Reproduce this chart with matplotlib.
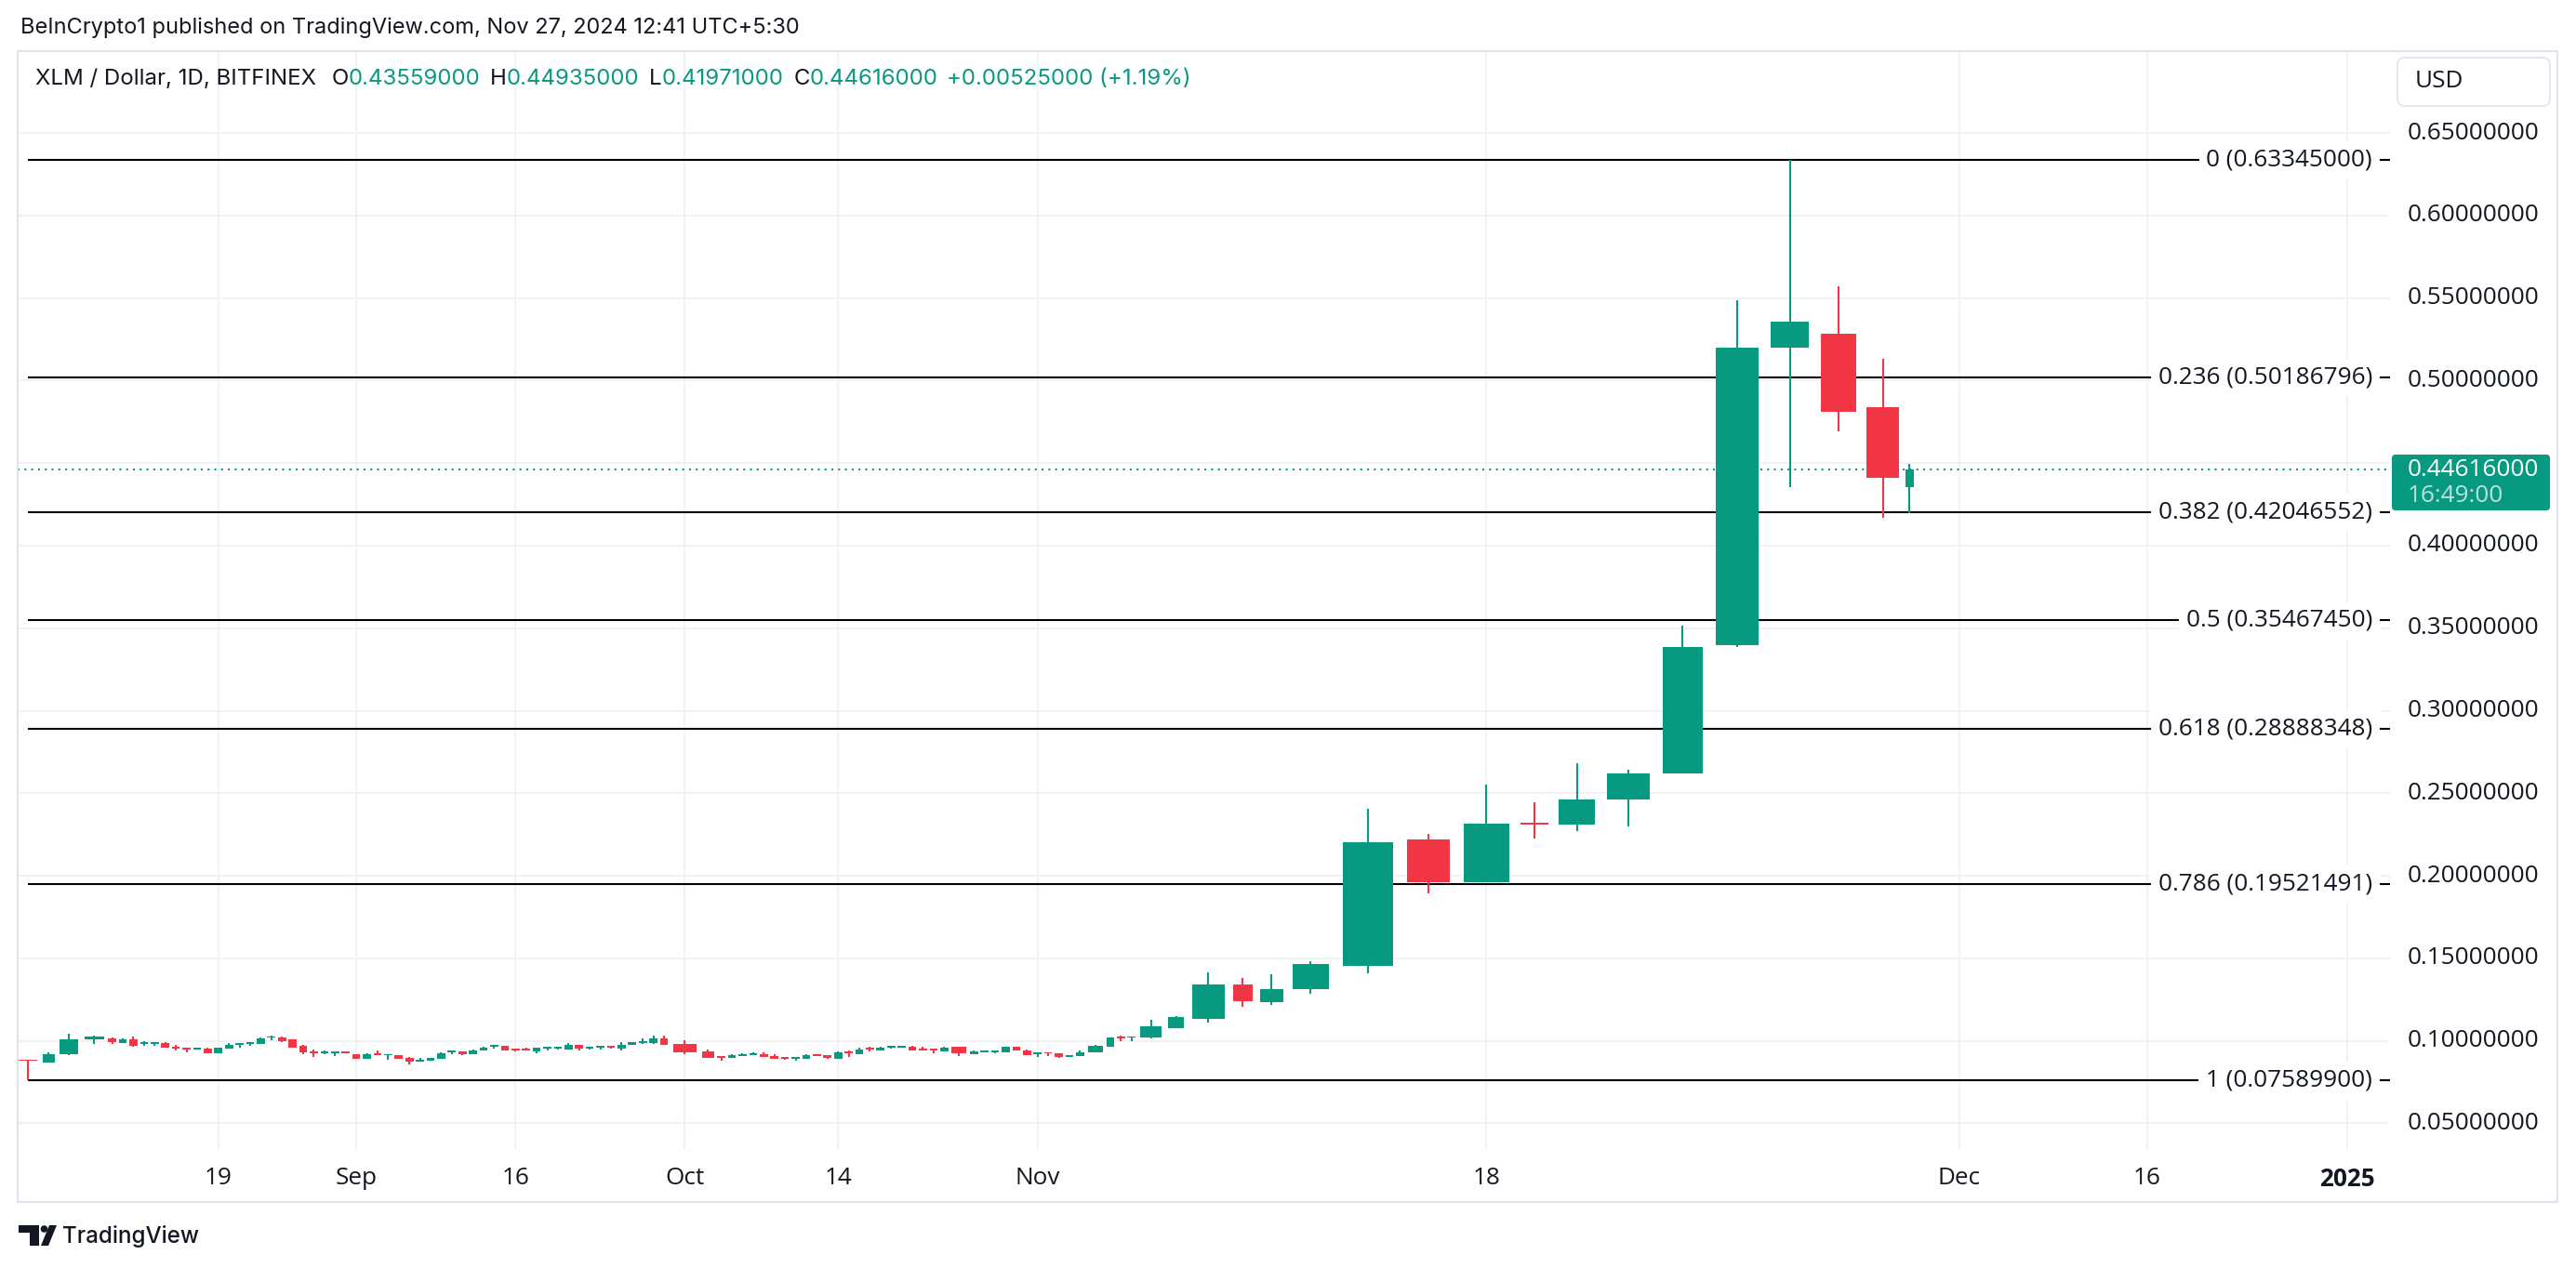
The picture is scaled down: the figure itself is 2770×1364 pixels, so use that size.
import numpy as np
import pandas as pd
import matplotlib
matplotlib.use("Agg")
import matplotlib.pyplot as plt
from matplotlib import transforms
from matplotlib.patches import FancyBboxPatch, Rectangle, Polygon, Circle

# ---------------------------------------------------------------- data
start_date = "2024-08-05"
end_date = "2024-11-27"

open_ = [
    0.0885, 0.0870, 0.0921, 0.1011, 0.1015, 0.0989, 0.1009, 0.0979, 0.0983, 0.0987,
    0.0964, 0.0957, 0.0949, 0.0951, 0.0927, 0.0955, 0.0975, 0.0981, 0.0983, 0.1019,
    0.1020, 0.1009, 0.0970, 0.0938, 0.0927, 0.0927, 0.0936,
    0.0919, 0.0893, 0.0927, 0.0911, 0.0913, 0.0897, 0.0874, 0.0881, 0.0893, 0.0930,
    0.0936, 0.0921, 0.0944, 0.0966, 0.0970, 0.0953, 0.0953, 0.0936, 0.0953, 0.0955,
    0.0949, 0.0975, 0.0955, 0.0958, 0.0970, 0.0955, 0.0973, 0.0989, 0.0987, 0.1015,
    0.0981, 0.0936, 0.0908, 0.0897, 0.0910, 0.0915, 0.0919, 0.0910, 0.0902, 0.0891,
    0.0891, 0.0919, 0.0913, 0.0891, 0.0936, 0.0919, 0.0958, 0.0942, 0.0958, 0.0961,
    0.0964, 0.0953, 0.0953, 0.0936, 0.0964, 0.0919, 0.0932, 0.0932, 0.0930, 0.0964,
    0.0942,
    0.0918, 0.0931, 0.0922, 0.0904, 0.0910, 0.0932, 0.0966, 0.1026, 0.1018, 0.1022,
    0.1078, 0.1135, 0.1341, 0.1236, 0.1315, 0.1452, 0.2220, 0.1959, 0.2320, 0.2313,
    0.2464, 0.2618, 0.3395, 0.5197, 0.5285, 0.4839, 0.43559,
]
high = [
    0.0886, 0.0930, 0.1043, 0.1033, 0.1020, 0.1013, 0.1026, 0.0998, 0.0990, 0.0990,
    0.0975, 0.0957, 0.0957, 0.0957, 0.0958, 0.0987, 0.0987, 0.0992, 0.1020, 0.1033,
    0.1028, 0.1009, 0.0977, 0.0945, 0.0942, 0.0936, 0.0938,
    0.0919, 0.0925, 0.0942, 0.0919, 0.0913, 0.0902, 0.0897, 0.0897, 0.0930, 0.0942,
    0.0936, 0.0949, 0.0964, 0.0975, 0.0970, 0.0953, 0.0958, 0.0958, 0.0964, 0.0964,
    0.0987, 0.0975, 0.0964, 0.0970, 0.0970, 0.0992, 0.0992, 0.1015, 0.1032, 0.1032,
    0.1004, 0.0947, 0.0908, 0.0919, 0.0927, 0.0932, 0.0932, 0.0919, 0.0902, 0.0902,
    0.0919, 0.0919, 0.0913, 0.0936, 0.0942, 0.0958, 0.0964, 0.0964, 0.0970, 0.0970,
    0.0972, 0.0964, 0.0953, 0.0964, 0.0964, 0.0942, 0.0942, 0.0942, 0.0964, 0.0964,
    0.0947,
    0.0930, 0.0933, 0.0922, 0.0914, 0.0940, 0.0975, 0.1022, 0.1031, 0.1026, 0.1127,
    0.1150, 0.1414, 0.1380, 0.1403, 0.1482, 0.2404, 0.2253, 0.2555, 0.2445, 0.2681,
    0.2642, 0.3515, 0.5487, 0.63345, 0.5571, 0.5132, 0.44935,
]
low = [
    0.075899, 0.0870, 0.0913, 0.0983, 0.0983, 0.0989, 0.0966, 0.0972, 0.0972, 0.0961,
    0.0942, 0.0932, 0.0949, 0.0927, 0.0927, 0.0955, 0.0960, 0.0972, 0.0983, 0.1005,
    0.0994, 0.0961, 0.0921, 0.0904, 0.0921, 0.0910, 0.0923,
    0.0893, 0.0893, 0.0915, 0.0885, 0.0893, 0.0857, 0.0874, 0.0881, 0.0893, 0.0919,
    0.0913, 0.0921, 0.0944, 0.0955, 0.0944, 0.0938, 0.0944, 0.0927, 0.0942, 0.0949,
    0.0949, 0.0942, 0.0949, 0.0949, 0.0955, 0.0944, 0.0973, 0.0983, 0.0983, 0.0977,
    0.0919, 0.0898, 0.0880, 0.0897, 0.0910, 0.0915, 0.0904, 0.0891, 0.0885, 0.0880,
    0.0891, 0.0910, 0.0891, 0.0891, 0.0902, 0.0919, 0.0936, 0.0942, 0.0953, 0.0961,
    0.0942, 0.0942, 0.0925, 0.0936, 0.0908, 0.0919, 0.0932, 0.0925, 0.0930, 0.0942,
    0.0913,
    0.0904, 0.0910, 0.0897, 0.0900, 0.0908, 0.0930, 0.0966, 0.0999, 0.0999, 0.1016,
    0.1078, 0.1112, 0.1206, 0.1219, 0.1287, 0.1408, 0.1891, 0.1959, 0.2223, 0.2269,
    0.2297, 0.2618, 0.3386, 0.4356, 0.4692, 0.4171, 0.41971,
]
close = [
    0.0877, 0.0919, 0.1009, 0.1026, 0.0994, 0.1009, 0.0972, 0.0990, 0.0990, 0.0961,
    0.0953, 0.0949, 0.0957, 0.0927, 0.0958, 0.0975, 0.0987, 0.0992, 0.1015, 0.1028,
    0.1000, 0.0961, 0.0932, 0.0927, 0.0936, 0.0936, 0.0923,
    0.0893, 0.0921, 0.0915, 0.0919, 0.0893, 0.0874, 0.0885, 0.0897, 0.0925, 0.0942,
    0.0919, 0.0942, 0.0958, 0.0975, 0.0944, 0.0944, 0.0944, 0.0958, 0.0964, 0.0964,
    0.0975, 0.0955, 0.0964, 0.0970, 0.0960, 0.0977, 0.0992, 0.0998, 0.1015, 0.0977,
    0.0932, 0.0898, 0.0897, 0.0913, 0.0921, 0.0927, 0.0904, 0.0891, 0.0891, 0.0902,
    0.0913, 0.0910, 0.0897, 0.0930, 0.0927, 0.0947, 0.0947, 0.0958, 0.0970, 0.0970,
    0.0942, 0.0942, 0.0942, 0.0958, 0.0925, 0.0936, 0.0942, 0.0942, 0.0964, 0.0942,
    0.0913,
    0.0928, 0.0922, 0.0902, 0.0912, 0.0933, 0.0969, 0.1020, 0.1016, 0.1026, 0.1088,
    0.1144, 0.1341, 0.1242, 0.1313, 0.1465, 0.2204, 0.1959, 0.2316, 0.2312, 0.2461,
    0.2620, 0.3386, 0.5199, 0.5358, 0.4813, 0.44091, 0.44616,
]
# relative volume of each day (volume candles: it sets each candle's width)
volume = [
    2.4, 1.5, 2.35, 2.4, 1.0, 1.0, 1.0, 1.0, 1.0, 1.0,
    1.0, 1.0, 1.0, 1.0, 1.0, 1.0, 1.0, 1.0, 1.0, 1.0,
    1.0, 1.0, 1.0, 1.0, 1.0, 1.0, 1.0,
    1.0, 1.0, 1.0, 1.0, 1.0, 1.0, 1.0, 1.0, 1.0, 1.0,
    1.0, 1.0, 1.0, 1.0, 1.0, 1.0, 1.0, 1.0, 1.0, 1.0,
    1.0, 1.0, 1.0, 1.0, 1.0, 1.0, 1.0, 1.0, 1.0, 1.0,
    2.9, 1.5, 1.0, 1.0, 1.0, 1.0, 1.0, 1.0, 1.0, 1.0,
    1.0, 1.0, 1.0, 1.0, 1.0, 1.0, 1.0, 1.0, 1.0, 1.0,
    1.0, 1.0, 1.0, 1.0, 1.8, 1.0, 1.0, 1.0, 1.0, 1.0,
    1.0,
    1.0, 1.0, 1.0, 1.0, 1.0, 1.85, 1.0, 1.0, 1.0, 2.7,
    2.02, 4.04, 2.47, 2.92, 4.49, 6.24, 5.24, 5.65, 3.45, 4.49,
    5.25, 4.94, 5.3, 4.72, 4.4, 3.95, 1.12,
]
future_day_volume = 1.18

fib_ratios = [0, 0.236, 0.382, 0.5, 0.618, 0.786, 1]
price_ticks = [0.05, 0.10, 0.15, 0.20, 0.25, 0.30, 0.35, 0.40, 0.45, 0.50, 0.55, 0.60, 0.65]
hidden_price_labels = [0.45]
time_tick_dates = ["2024-08-19", "2024-09-01", "2024-09-16", "2024-10-01", "2024-10-14",
                   "2024-11-01", "2024-11-18", "2024-12-01", "2024-12-16", "2025-01-01"]
time_tick_labels = ["19", "Sep", "16", "Oct", "14", "Nov", "18", "Dec", "16", "2025"]
bold_time_labels = ["2025"]

title = "BeInCrypto1 published on TradingView.com, Nov 27, 2024 12:41 UTC+5:30"
symbol = "XLM / Dollar, 1D, BITFINEX"
currency = "USD"
countdown = "16:49:00"
brand = "TradingView"

# ---------------------------------------------------------------- style
GREEN = "#089981"
RED = "#F23645"
DARK = "#131722"
GRID = "#eef0f3"
BORDER = "#e0e3eb"
PRICE_FONT = ["Open Sans", "DejaVu Sans"]
UI_FONT = ["Inter", "DejaVu Sans"]

W, H, DPI = 2770, 1364, 100
fig = plt.figure(figsize=(W / DPI, H / DPI), dpi=DPI)
fig.patch.set_facecolor("white")

PL, PR, PT, PB = 19, 2570, 55, 1237
ax = fig.add_axes([PL / W, 1 - PB / H, (PR - PL) / W, (PB - PT) / H])
ov = fig.add_axes([0, 0, 1, 1], zorder=5)
ov.set_xlim(0, W)
ov.set_ylim(H, 0)
ov.axis("off")
ov.patch.set_alpha(0)

renderer = fig.canvas.get_renderer()


def text_w(t):
    return t.get_window_extent(renderer=renderer).width


# ---------------------------------------------------------------- candles
dates = pd.date_range(start_date, end_date, freq="D")
o = np.array(open_)
h = np.array(high)
l = np.array(low)
c = np.array(close)
vol = np.array(volume)

centers = np.cumsum(vol) - vol / 2 - vol[0] / 2
last_edge = centers[-1] + vol[-1] / 2


def date_pos(d):
    d = pd.Timestamp(d)
    if d <= dates[-1]:
        return centers[dates.get_loc(d)]
    n = (d - dates[-1]).days
    return last_edge + (n - 0.5) * future_day_volume


xt = [date_pos(d) for d in time_tick_dates]
ax.set_xlim(-0.96, xt[-1] + 4.0)
ax.set_ylim(0.0339, 0.6996)
ax.set_xticks(xt)
ax.set_yticks(price_ticks)
ax.set_xticklabels([])
ax.set_yticklabels([])
ax.tick_params(length=0)
ax.grid(True, color=GRID, lw=1.2)
ax.set_axisbelow(True)
for s in ax.spines.values():
    s.set_visible(False)

up = c >= o
cols = np.where(up, GREEN, RED)
body_lo = np.minimum(o, c)
body_h = np.maximum(np.abs(c - o), 0.0008)
ax.vlines(centers, l, h, colors=cols, lw=1.5, zorder=4)
ax.bar(centers, body_h, width=vol * 0.76, bottom=body_lo, color=cols, lw=0, zorder=5)

# last price dotted line
ax.axhline(c[-1], color=GREEN, lw=1.5, ls=(0, (1, 2.5)), zorder=2)

# ---------------------------------------------------------------- fonts
probe = fig.text(0, 0, "0.65000000", fontsize=18, family=PRICE_FONT)
S_PRICE = 18 * 141 / text_w(probe)
probe.remove()

blend_yx = transforms.blended_transform_factory(ov.transData, ax.transData)
blend_xy = transforms.blended_transform_factory(ax.transData, ov.transData)

# ---------------------------------------------------------------- fibonacci
fib_hi, fib_lo = h.max(), l.min()
fib_x0 = centers[np.argmin(l)]
for r in fib_ratios:
    v = fib_hi - r * (fib_hi - fib_lo)
    ax.hlines(v, fib_x0, ax.get_xlim()[1], color="black", lw=1.5, zorder=2)
    ax.text(2551, v, f"{r:g} ({v:.8f})", transform=blend_yx, ha="right", va="center",
            fontsize=S_PRICE, family=PRICE_FONT, color=DARK, zorder=3,
            bbox=dict(boxstyle="square,pad=0.3", fc="white", ec="none"))

# ---------------------------------------------------------------- price axis
for p in price_ticks:
    if p in hidden_price_labels:
        continue
    ax.text(2589, p, f"{p:.8f}", transform=blend_yx, ha="left", va="center",
            fontsize=S_PRICE, family=PRICE_FONT, color=DARK)

py_last = ov.transData.inverted().transform(ax.transData.transform((0, c[-1])))[1]
ov.add_patch(FancyBboxPatch((2572, py_last - 16), 170, 60,
                            boxstyle="round,pad=0,rounding_size=4", fc=GREEN, ec="none"))
ov.text(2589, py_last, f"{c[-1]:.8f}", ha="left", va="center", fontsize=S_PRICE,
        family=PRICE_FONT, color="white")
ov.text(2589, py_last + 28, countdown, ha="left", va="center", fontsize=S_PRICE,
        family=PRICE_FONT, color="white", alpha=0.72)

ov.add_patch(FancyBboxPatch((2578, 62), 164, 52, boxstyle="round,pad=0,rounding_size=8",
                            fc="white", ec=BORDER, lw=1.2))
ov.text(2597, 88, currency, ha="left", va="center", fontsize=S_PRICE,
        family=PRICE_FONT, color=DARK)

# ---------------------------------------------------------------- time axis
for x, lab in zip(xt, time_tick_labels):
    ax.text(x, 1268, lab, transform=blend_xy, ha="center", va="center",
            fontsize=S_PRICE, family=PRICE_FONT, color=DARK,
            fontweight="bold" if lab in bold_time_labels else "normal")

# frame
ov.add_patch(Rectangle((19, 55), 2750 - 19, 1293 - 55, fc="none", ec=BORDER, lw=1.5))

# ---------------------------------------------------------------- title + legend
t = ov.text(22, 30, title, ha="left", va="center", fontsize=18, family=UI_FONT, color=DARK)
t.set_fontsize(18 * 837 / text_w(t))

prev_close = c[-2]
chg = c[-1] - prev_close
pct = chg / prev_close * 100
pieces = [
    (symbol, DARK, 16),
    ("O", DARK, 0), (f"{o[-1]:.8f}", GREEN, 10),
    ("H", DARK, 0), (f"{h[-1]:.8f}", GREEN, 10),
    ("L", DARK, 0), (f"{l[-1]:.8f}", GREEN, 10),
    ("C", DARK, 0), (f"{c[-1]:.8f}", GREEN, 9),
    (f"{chg:+.8f} ({pct:+.2f}%)", GREEN, 0),
]
base = 18
tmp = [ov.text(0, 85, s, fontsize=base, family=UI_FONT) for s, _, _ in pieces]
widths = [text_w(tt) for tt in tmp]
for tt in tmp:
    tt.remove()
gaps = sum(g for _, _, g in pieces[:-1])
k = (1281 - 37.5 - gaps) / sum(widths)
xcur = 37.5
for (s, col, g), wv in zip(pieces, widths):
    ov.text(xcur, 85, s, ha="left", va="center", fontsize=base * k, family=UI_FONT, color=col)
    xcur += wv * k + g

# ---------------------------------------------------------------- brand
bt = ov.text(67, 1330, brand, ha="left", va="center", fontsize=18, family=UI_FONT,
             color=DARK, fontweight="medium")
bt.set_fontsize(18 * 147 / text_w(bt))
ov.add_patch(Polygon([(20, 1318), (42, 1318), (42, 1340), (32, 1340), (32, 1326), (20, 1326)],
                     closed=True, fc=DARK, ec="none"))
ov.add_patch(Circle((47.5, 1322), 3.8, fc=DARK, ec="none"))
ov.add_patch(Polygon([(53, 1318), (61, 1318), (52, 1340), (44, 1340)], closed=True,
                     fc=DARK, ec="none"))

fig.savefig("out.png", dpi=DPI, facecolor="white")
